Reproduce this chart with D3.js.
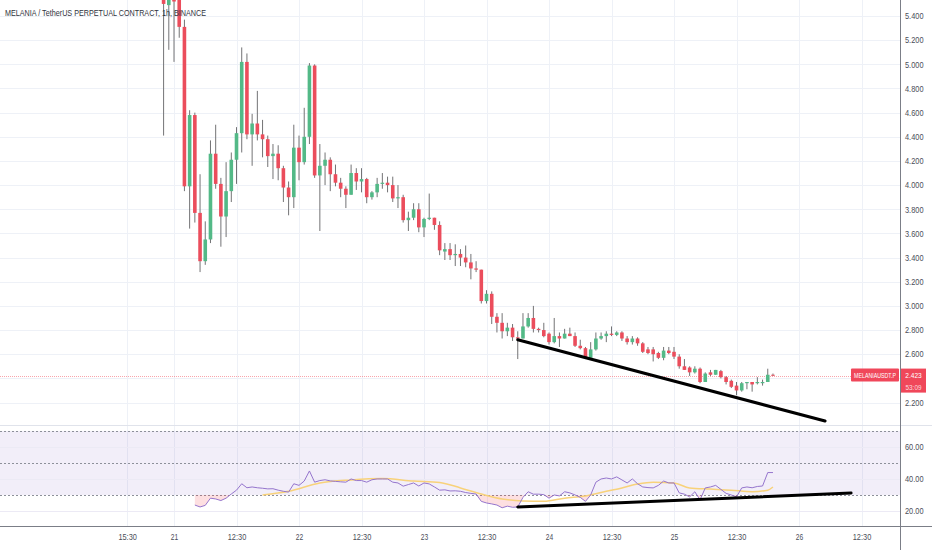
<!DOCTYPE html>
<html>
<head>
<meta charset="utf-8">
<script src="https://cdn.jsdelivr.net/npm/d3@7"></script>
<style>
  body { margin: 0; background: #ffffff; }
  svg { display: block; font-family: "Liberation Sans", Arial, sans-serif; }
</style>
</head>
<body>
<svg id="drawing_region"></svg>
<script>
// ---- data (1h candles, hour 0 = day "21") ----
const title = "MELANIA / TetherUS PERPETUAL CONTRACT, 1h, BINANCE";
const symbolTag = "MELANIAUSDT.P";
const lastPrice = 2.423;
const countdown = "53:09";

const firstHour = -2;
const opens  = [5.62,5.49,5.56,5.55,5.31,3.99,4.58,3.77,3.37,3.55,4.26,4.01,3.74,3.95,4.21,4.43,5.02,4.42,4.51,4.42,
                4.38,4.24,4.26,4.14,3.98,3.90,4.31,4.19,4.40,4.99,4.08,4.16,4.21,4.09,4.02,3.97,3.92,4.10,4.03,4.05,
                3.90,3.94,4.01,4.02,4.00,3.89,3.90,3.71,3.73,3.80,3.65,3.72,3.73,3.67,3.45,3.47,3.42,3.43,3.40,3.36,
                3.31,3.30,3.04,3.10,2.91,2.86,2.79,2.82,2.74,2.73,2.83,2.90,2.81,2.80,2.77,2.70,2.75,2.73,2.77,2.75,
                2.67,2.65,2.57,2.64,2.73,2.75,2.77,2.76,2.78,2.73,2.70,2.73,2.69,2.64,2.64,2.61,2.57,2.63,2.62,2.58,
                2.50,2.49,2.45,2.48,2.37,2.45,2.43,2.46,2.41,2.38,2.34,2.30,2.36,2.37,2.36,2.36,2.37,2.43];
const highs  = [5.90,5.80,5.70,5.65,5.37,4.62,4.60,4.09,3.70,4.37,4.50,4.06,4.19,4.27,4.48,5.14,5.09,4.59,4.78,4.54,
                4.41,4.34,4.33,4.16,4.03,4.50,4.41,4.64,5.01,5.00,4.34,4.27,4.23,4.17,4.06,3.99,4.17,4.14,4.14,4.06,
                3.95,4.06,4.10,4.07,4.07,4.00,3.92,3.78,3.85,3.85,3.73,3.93,3.73,3.70,3.52,3.52,3.51,3.47,3.50,3.43,
                3.37,3.30,3.13,3.12,2.94,2.94,2.86,2.85,2.79,2.94,2.94,3.00,2.82,2.86,2.78,2.90,2.78,2.81,2.82,2.78,
                2.72,2.66,2.70,2.78,2.78,2.79,2.83,2.79,2.79,2.75,2.75,2.74,2.70,2.66,2.66,2.62,2.66,2.66,2.66,2.60,
                2.56,2.50,2.50,2.49,2.45,2.47,2.47,2.47,2.42,2.39,2.37,2.37,2.37,2.37,2.41,2.39,2.48,2.44];
const lows   = [4.41,5.12,5.02,5.22,3.95,3.64,3.69,3.28,3.34,3.52,3.97,3.49,3.57,3.86,4.01,4.27,4.38,4.16,4.37,4.23,
                4.15,4.05,4.04,3.86,3.75,3.81,4.04,4.17,4.34,4.06,3.62,4.00,3.95,3.99,3.90,3.81,3.92,3.96,3.94,3.85,
                3.88,3.90,3.97,3.94,3.86,3.81,3.69,3.62,3.71,3.61,3.57,3.71,3.63,3.42,3.38,3.38,3.33,3.33,3.32,3.22,
                3.28,3.02,3.02,2.85,2.78,2.73,2.75,2.71,2.56,2.73,2.82,2.78,2.78,2.74,2.68,2.69,2.66,2.73,2.75,2.66,
                2.64,2.56,2.57,2.63,2.72,2.70,2.75,2.75,2.71,2.68,2.68,2.67,2.61,2.60,2.54,2.56,2.55,2.60,2.56,2.48,
                2.47,2.42,2.44,2.36,2.37,2.42,2.43,2.40,2.35,2.32,2.26,2.29,2.31,2.29,2.35,2.34,2.37,2.42];
const closes = [5.50,5.55,5.52,5.31,3.99,4.58,3.77,3.37,3.55,4.26,4.01,3.74,3.95,4.21,4.43,5.02,4.42,4.51,4.42,4.38,
                4.24,4.26,4.14,3.98,3.90,4.31,4.19,4.40,4.99,4.08,4.16,4.21,4.09,4.02,3.97,3.92,4.10,4.03,4.05,3.90,
                3.94,4.01,4.02,4.00,3.89,3.90,3.71,3.73,3.80,3.65,3.72,3.73,3.67,3.46,3.47,3.42,3.43,3.40,3.36,3.31,
                3.30,3.04,3.10,2.91,2.86,2.79,2.82,2.74,2.73,2.83,2.90,2.81,2.80,2.75,2.70,2.75,2.73,2.77,2.75,2.67,
                2.65,2.57,2.64,2.73,2.75,2.77,2.76,2.78,2.73,2.70,2.73,2.69,2.62,2.61,2.60,2.57,2.63,2.61,2.58,2.50,
                2.47,2.45,2.48,2.37,2.44,2.43,2.47,2.41,2.37,2.33,2.30,2.36,2.37,2.35,2.37,2.37,2.43,2.423];

const rsiFirstHour = 4;
const rsiValues = [23.7,22.5,23.5,28,27.5,26.5,28,30.6,33,37,34.5,35,34.5,34.2,33.8,33.9,33,32.3,31.8,37,
                   36,38.7,45,38,39,39.5,38.8,38.5,38.2,38,40,39,39,38,39.5,40,40,40,38,37.5,
                   35.5,36.5,37.5,35.6,37.5,36.9,35,33,33.2,32.5,32.6,32.3,31.5,31,30.6,26,25,24.4,23.7,22,
                   23,22.3,22.5,28.5,32,30.5,30.5,30.2,28,30,29.4,32,31.3,30,28.5,26,30,38,40,40.6,
                   40,41.3,39.4,37.5,40,37,35,34.6,34.4,36,38.7,37.5,37.5,31.3,30.5,28.8,32,26.9,34.4,35,
                   36,33.5,31,30,28.8,34.4,35,34.5,35.3,35.6,44,44];

const maHours  = [17,22,28,34,40,46,51,55,59,63,67,71,75,79,83,86,89,92,96,99,103,107,111,114,115];
const maValues = [30,32.3,37.5,39.4,40.3,38.7,37.8,34.4,30.6,27.5,26.2,26,28,29.4,32.3,34.4,36.8,38,37.5,34.4,33.7,33,32,33,35];

const trendHours  = [66, 125];
const trendPrices = [2.72, 2.047];
const rsiTrendHours  = [66, 130];
const rsiTrendValues = [22.5, 31.2];

const timeTicks  = [-9, 0, 12, 24, 36, 48, 60, 72, 84, 96, 108, 120, 132];
const timeLabels = ["15:30","21","12:30","22","12:30","23","12:30","24","12:30","25","12:30","26","12:30"];
const priceTicks = [2.2, 2.4, 2.6, 2.8, 3.0, 3.2, 3.4, 3.6, 3.8, 4.0, 4.2, 4.4, 4.6, 4.8, 5.0, 5.2, 5.4];
const rsiTicks   = [20, 40, 60];
const rsiLevels  = [70, 50, 30];

class CandleChart {
    constructor(config) {
        this.config = config;
        this.candles = opens.map((o, i) => ({ h: firstHour + i, o: o, hi: highs[i], lo: lows[i], c: closes[i] }));
        this.rsi = rsiValues.map((v, i) => ({ h: rsiFirstHour + i, v: v }));
        this.ma = maHours.map((h, i) => ({ h: h, v: maValues[i] }));
        this.init();
    }

    init() {
        let self = this;
        const c = self.config;

        self.svg = d3.select(c.parent)
            .attr('width', c.width)
            .attr('height', c.height);

        self.xscale = d3.scaleLinear().domain([-33.41, 139.39]).range([0, c.plotRight]);
        self.yscale = d3.scaleLinear().domain([2.014, 5.5325]).range([c.mainBottom, 0]);
        self.rscale = d3.scaleLinear().domain([10.6, 73.1]).range([c.rsiBottom, c.rsiTop]);

        const defs = self.svg.append('defs');
        defs.append('clipPath').attr('id', 'main-clip')
            .append('rect').attr('x', 0).attr('y', 0).attr('width', c.plotRight).attr('height', c.mainBottom);
        defs.append('clipPath').attr('id', 'oversold-clip')
            .append('rect').attr('x', 0).attr('y', self.rscale(30))
            .attr('width', c.plotRight).attr('height', c.rsiBottom - self.rscale(30));
    }

    // narrow the axis labels like the snapshot font
    squeeze(g) {
        g.selectAll('text')
            .attr('fill', '#4a4e59')
            .attr('font-size', 8.5)
            .attr('textLength', function () { return this.textContent.length * 3.7; })
            .attr('lengthAdjust', 'spacingAndGlyphs');
    }

    render() {
        let self = this;
        const c = self.config;
        const x = self.xscale, y = self.yscale, r = self.rscale;

        // grid
        const grid = self.svg.append('g');
        grid.selectAll('.vgrid').data(timeTicks).enter().append('line')
            .attr('x1', d => Math.round(x(d)) + 0.5).attr('x2', d => Math.round(x(d)) + 0.5)
            .attr('y1', 0).attr('y2', c.rsiBottom)
            .attr('stroke', '#eef1f7');
        grid.selectAll('.hgrid').data(priceTicks).enter().append('line')
            .attr('x1', 0).attr('x2', c.plotRight)
            .attr('y1', d => Math.round(y(d)) + 0.5).attr('y2', d => Math.round(y(d)) + 0.5)
            .attr('stroke', '#eef1f7');

        // rsi pane background and levels
        const rsiG = self.svg.append('g');
        rsiG.append('rect')
            .attr('x', 0).attr('width', c.plotRight)
            .attr('y', r(70)).attr('height', r(30) - r(70))
            .attr('fill', 'rgba(126,87,194,0.1)');
        rsiG.selectAll('.rgrid').data(rsiTicks).enter().append('line')
            .attr('x1', 0).attr('x2', c.plotRight)
            .attr('y1', d => Math.round(r(d)) + 0.5).attr('y2', d => Math.round(r(d)) + 0.5)
            .attr('stroke', '#eceaf5');
        rsiG.selectAll('.level').data(rsiLevels).enter().append('line')
            .attr('x1', 0).attr('x2', c.plotRight)
            .attr('y1', d => Math.round(r(d)) + 0.5).attr('y2', d => Math.round(r(d)) + 0.5)
            .attr('stroke', '#8d909a').attr('stroke-dasharray', '2,2');

        // pane separator
        self.svg.append('line')
            .attr('x1', 0).attr('x2', c.width)
            .attr('y1', c.mainBottom + 0.5).attr('y2', c.mainBottom + 0.5)
            .attr('stroke', '#e0e3eb');

        // last price line
        self.svg.append('line')
            .attr('x1', 0).attr('x2', c.plotRight)
            .attr('y1', Math.round(y(lastPrice)) + 0.5).attr('y2', Math.round(y(lastPrice)) + 0.5)
            .attr('stroke', 'rgba(242,54,69,0.45)').attr('stroke-dasharray', '1,1');

        // candles
        const main = self.svg.append('g').attr('clip-path', 'url(#main-clip)');
        const bw = 3.6;
        main.selectAll('.wick').data(self.candles).enter().append('line')
            .attr('x1', d => x(d.h)).attr('x2', d => x(d.h))
            .attr('y1', d => y(d.hi)).attr('y2', d => y(d.lo))
            .attr('stroke', '#737375').attr('stroke-width', 1);
        main.selectAll('.body').data(self.candles).enter().append('rect')
            .attr('x', d => x(d.h) - bw / 2)
            .attr('width', bw)
            .attr('y', d => y(Math.max(d.o, d.c)))
            .attr('height', d => Math.max(1, Math.abs(y(d.o) - y(d.c))))
            .attr('fill', d => d.c >= d.o ? '#53b987' : '#eb4d5c');

        // trend line on price
        const tline = d3.line().x(d => x(d[0])).y(d => y(d[1]));
        main.append('path')
            .attr('d', tline(trendHours.map((h, i) => [h, trendPrices[i]])))
            .attr('stroke', '#000').attr('stroke-width', 3).attr('stroke-linecap', 'round').attr('fill', 'none');

        // rsi oversold fill
        const area = d3.area().x(d => x(d.h)).y0(r(30)).y1(d => r(d.v));
        rsiG.append('path')
            .attr('d', area(self.rsi))
            .attr('clip-path', 'url(#oversold-clip)')
            .attr('fill', 'rgba(242,54,69,0.16)');

        // rsi MA and rsi line
        rsiG.append('path')
            .attr('d', d3.line().x(d => x(d.h)).y(d => r(d.v)).curve(d3.curveMonotoneX)(self.ma))
            .attr('stroke', '#f8d27a').attr('stroke-width', 1.5).attr('fill', 'none');
        rsiG.append('path')
            .attr('d', d3.line().x(d => x(d.h)).y(d => r(d.v))(self.rsi))
            .attr('stroke', '#9575cd').attr('stroke-width', 1).attr('fill', 'none');

        // rsi trend line
        const rline = d3.line().x(d => x(d[0])).y(d => r(d[1]));
        rsiG.append('path')
            .attr('d', rline(rsiTrendHours.map((h, i) => [h, rsiTrendValues[i]])))
            .attr('stroke', '#000').attr('stroke-width', 3).attr('stroke-linecap', 'round').attr('fill', 'none');

        // axes (the label under the price tag is hidden, as in the snapshot)
        const labelTicks = priceTicks.filter(p => Math.abs(y(p) - y(lastPrice)) > 12);
        const yaxis = d3.axisRight(y).tickValues(labelTicks).tickFormat(d3.format('.3f')).tickSize(0).tickPadding(5);
        const ya = self.svg.append('g').attr('transform', `translate(${c.plotRight}, 0)`).call(yaxis);
        const raxis = d3.axisRight(r).tickValues(rsiTicks).tickFormat(d3.format('.2f')).tickSize(0).tickPadding(5);
        const ra = self.svg.append('g').attr('transform', `translate(${c.plotRight}, 0)`).call(raxis);
        const xaxis = d3.axisBottom(x).tickValues(timeTicks).tickFormat((d, i) => timeLabels[i]).tickSize(0).tickPadding(8);
        const xa = self.svg.append('g').attr('transform', `translate(0, ${c.rsiBottom})`).call(xaxis);
        [ya, ra, xa].forEach(g => {
            g.select('.domain').remove();
            self.squeeze(g);
        });

        self.svg.append('line')
            .attr('x1', 0).attr('x2', c.width)
            .attr('y1', c.rsiBottom + 0.5).attr('y2', c.rsiBottom + 0.5)
            .attr('stroke', '#7b7e87');
        self.svg.append('line')
            .attr('x1', c.plotRight + 0.5).attr('x2', c.plotRight + 0.5)
            .attr('y1', 0).attr('y2', c.height)
            .attr('stroke', '#7b7e87');

        // price tags (texts narrowed with a scale so their boxes stay inside the tags)
        const ty = y(lastPrice);
        const tag = self.svg.append('g');
        tag.append('rect').attr('x', 851).attr('y', ty - 7).attr('width', 48).attr('height', 13)
            .attr('rx', 1).attr('fill', '#f0475a');
        tag.append('text')
            .attr('transform', `translate(875, ${ty + 2.8}) scale(0.66, 1)`)
            .attr('text-anchor', 'middle')
            .attr('fill', '#fff').attr('font-size', 8)
            .text(symbolTag);
        tag.append('rect').attr('x', 901).attr('y', ty - 7).attr('width', 25).attr('height', 24)
            .attr('fill', '#f0475a');
        tag.append('text')
            .attr('transform', `translate(913.5, ${ty + 2}) scale(0.82, 1)`)
            .attr('text-anchor', 'middle')
            .attr('fill', '#fff').attr('font-size', 8)
            .text(d3.format('.3f')(lastPrice));
        tag.append('text')
            .attr('transform', `translate(913.5, ${ty + 14}) scale(0.85, 1)`)
            .attr('text-anchor', 'middle')
            .attr('fill', 'rgba(255,255,255,0.8)').attr('font-size', 7.5)
            .text(countdown);

        // header
        self.svg.append('text')
            .attr('x', 5).attr('y', 16)
            .attr('font-size', 9.5)
            .attr('fill', '#30333d')
            .attr('textLength', 201).attr('lengthAdjust', 'spacingAndGlyphs')
            .text(title);
    }
}

const chart = new CandleChart({
    parent: '#drawing_region',
    width: 932,
    height: 550,
    plotRight: 900,
    mainBottom: 425,
    rsiTop: 426,
    rsiBottom: 526
});
chart.render();
</script>
</body>
</html>
